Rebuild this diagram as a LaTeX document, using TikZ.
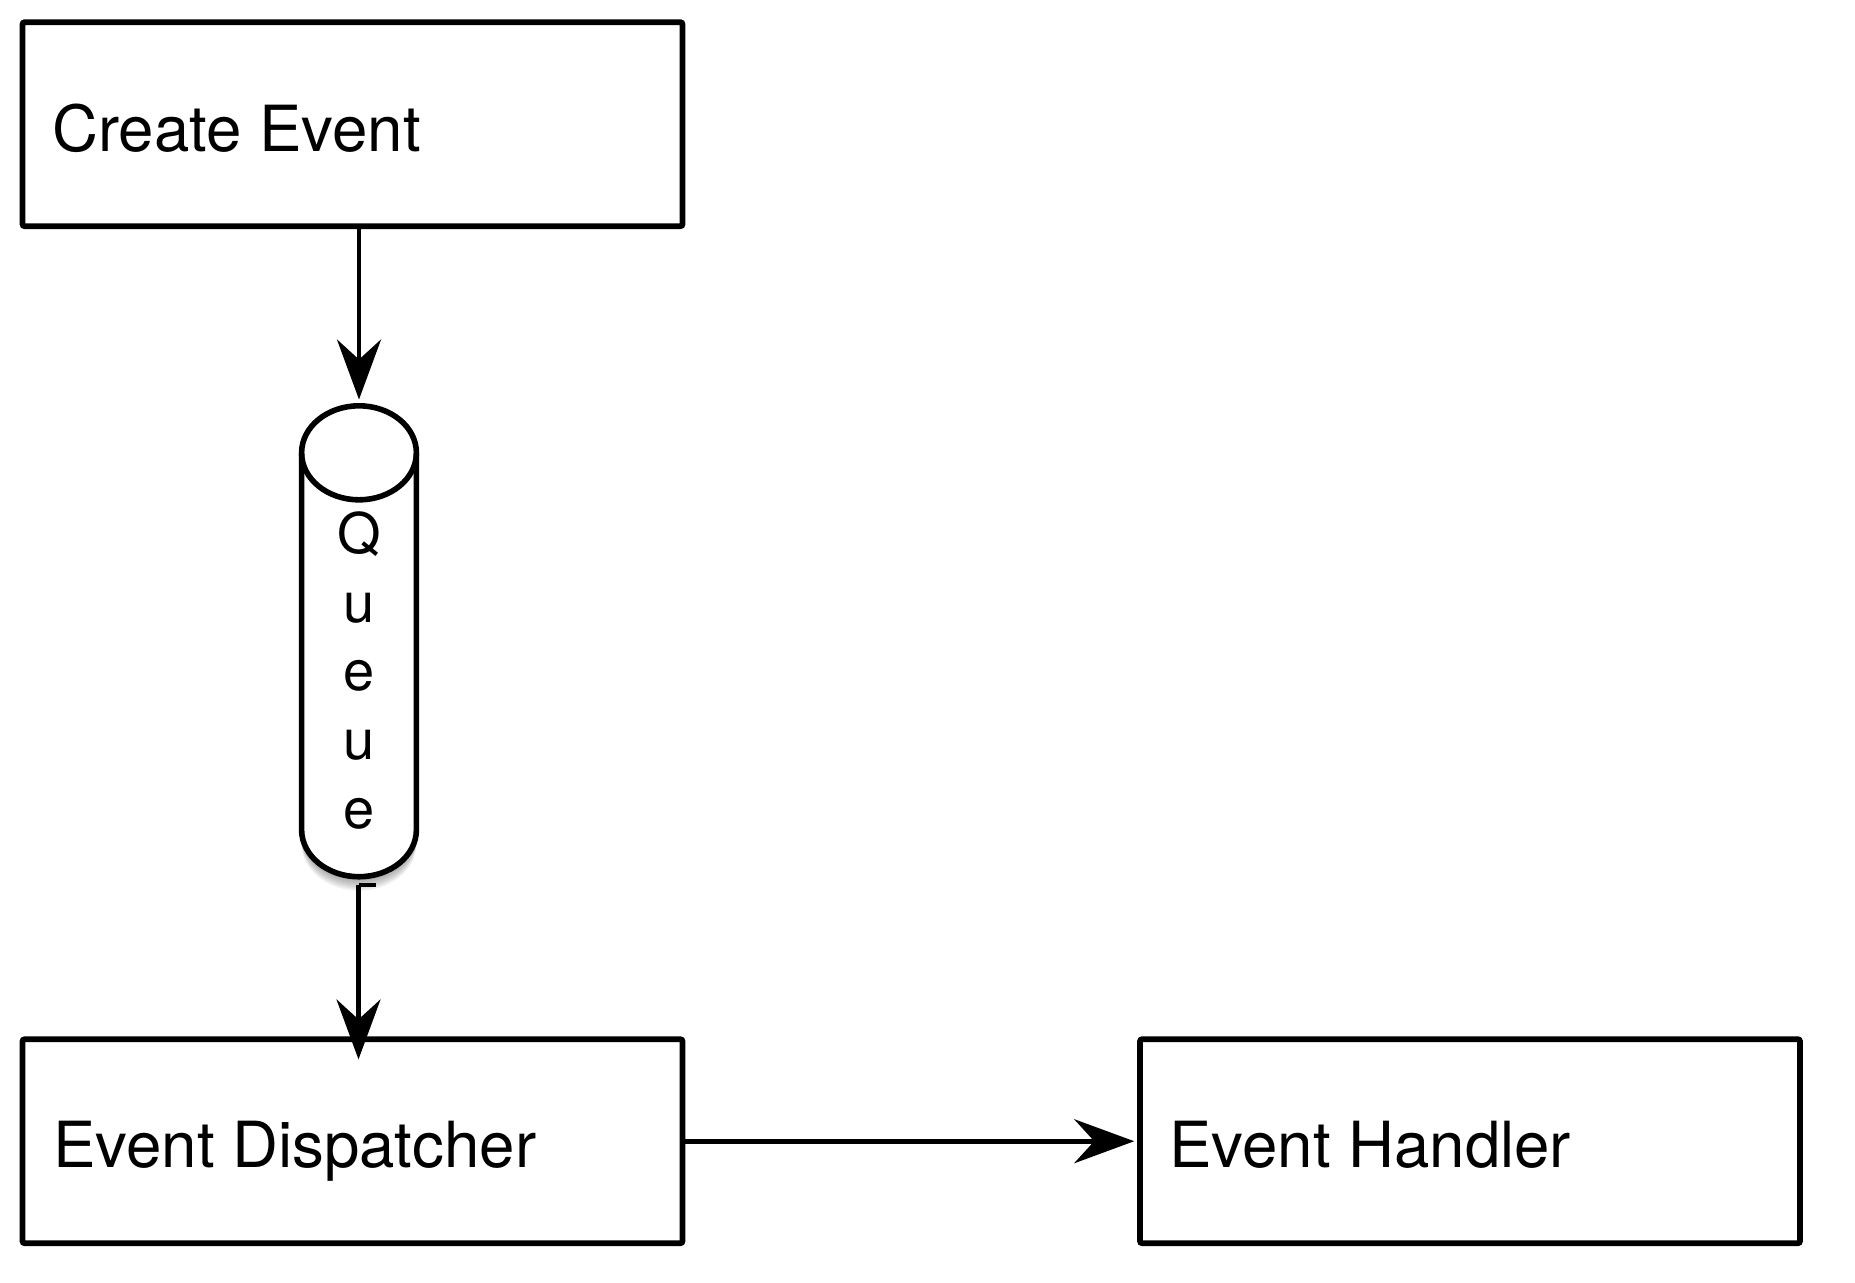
\documentclass[tikz,border=0pt]{standalone}
\usepackage{fontspec}
\setmainfont{TeX Gyre Heros}
\usetikzlibrary{arrows.meta}
\begin{document}
\begin{tikzpicture}[x=0.5pt,y=-0.5pt,
 box/.style={draw, line width=2.8pt, minimum width=330pt, minimum height=102pt, inner sep=0pt, rounded corners=1pt},
 lbl/.style={anchor=base west, inner sep=0pt, font=\fontsize{31.8pt}{38pt}\selectfont},
 qlet/.style={anchor=base, inner sep=0pt, font=\fontsize{28pt}{34pt}\selectfont},
 arr/.style={line width=2.3pt, -{Stealth[length=30pt,width=22pt,inset=10pt]}},
 cyl/.style={line width=2.8pt}]
\useasboundingbox (0,0) rectangle (1855,1282);
\fill[white] (0,0) rectangle (1855,1282);
% boxes
\node[box] (create) at (352.5,124.2) {};
\node[box] (disp) at (352.5,1141.2) {};
\node[box] (hand) at (1470,1141.2) {};
\node[lbl] (t1) at (52,151.4) {Create Event};
\node[lbl] (t2) at (53,1167.7) {Event Dispatcher};
\node[lbl] (t3) at (1169,1167.7) {Event Handler};
% queue cylinder
\node[minimum width=57.4pt, minimum height=235.5pt, inner sep=0pt] (queue) at (359,641.2) {};
\foreach \d in {2,4,6,8,10,12,14}{
  \begin{scope}[yshift=-\d*0.5pt]
  \fill[black,opacity=0.06] (301.6,452.8) -- (301.6,829.7) arc[start angle=180,end angle=0,x radius=57.4,y radius=47] -- (416.4,452.8) -- cycle;
  \end{scope}
}
\fill[white] (301.6,452.8) -- (301.6,829.7) arc[start angle=180,end angle=0,x radius=57.4,y radius=47] -- (416.4,452.8) arc[start angle=0,end angle=-180,x radius=57.4,y radius=47] -- cycle;
\draw[cyl] (301.6,452.8) -- (301.6,829.7) arc[start angle=180,end angle=0,x radius=57.4,y radius=47] -- (416.4,452.8);
\draw[cyl] (359,452.8) ellipse[x radius=57.4, y radius=47];
\node[qlet] (q1) at (359,553.7) {Q};
\node[qlet] (q2) at (359,622.3) {u};
\node[qlet] (q3) at (359,690.9) {e};
\node[qlet] (q4) at (359,759.5) {u};
\node[qlet] (q5) at (359,828.1) {e};
% connectors
\draw[arr, shorten >=2.9pt] (create.south -| queue.north) -- (queue.north);
\coordinate (qb) at (358.5,885);
\draw[line width=2.3pt] (qb) -- ++(17.5,0);
\draw[arr, shorten >=-11.5pt] (qb) -- (disp.north -| qb);
\draw[arr, shorten >=1.5pt] (disp.east) -- (hand.west);
\end{tikzpicture}
\end{document}
